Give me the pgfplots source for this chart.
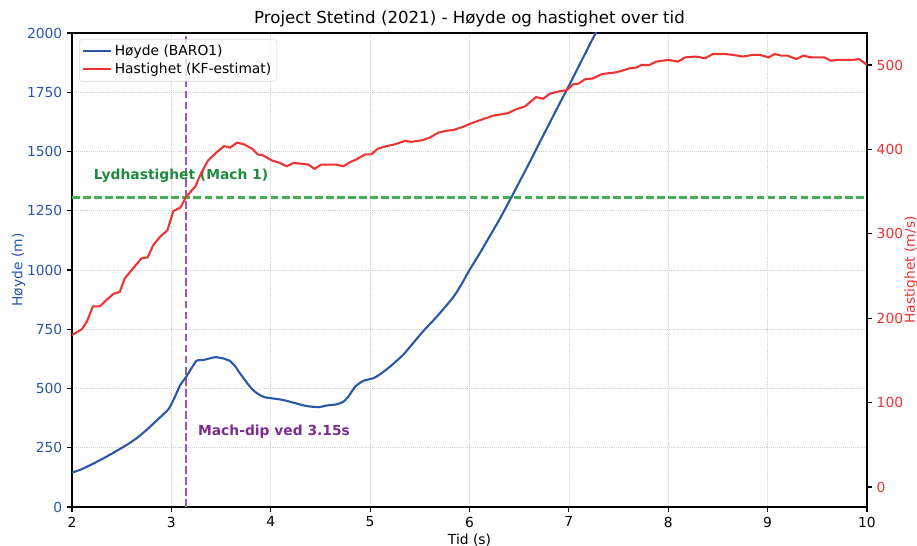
\documentclass[border=0pt]{standalone}
\usepackage{fontspec}
\setmainfont{DejaVu Sans}
\usepackage{pgfplots}
\pgfplotsset{compat=1.18}
\definecolor{hblue}{HTML}{2A56A8}
\definecolor{hred}{HTML}{EE3333}
\definecolor{hgreen}{HTML}{44B055}
\definecolor{tgreen}{HTML}{1E8A3C}
\definecolor{hpurple}{HTML}{9B59B6}
\definecolor{tpurple}{HTML}{7B2C8F}
\pgfplotsset{
  common/.style={
    at={(0,0)}, anchor=south west,
    scale only axis, width=572.4bp, height=341.28bp,
    xmin=2, xmax=10,
    font=\fontsize{10}{12}\selectfont,
    tick align=outside, major tick length=3.5bp,
    every tick/.style={black, line width=0.8bp},
    axis line style={black, line width=0.8bp},
    /pgf/number format/.cd, 1000 sep={}, assume math mode=true,
  },
}
\begin{document}
\begin{tikzpicture}
\useasboundingbox (-51.84bp,-28.08bp) rectangle (608.4bp,365.04bp);
\begin{axis}[common,
  ymin=0, ymax=2000,
  xtick={2,3,...,10}, ytick={0,250,...,2000},
  xtick pos=left, ytick pos=left,
  xmajorgrids, ymajorgrids,
  grid style={densely dotted, gray!35, line width=0.5bp},
  yticklabel style={text=hblue},
  xlabel={Tid (s)}, ylabel={Høyde (m)},
  xlabel style={yshift=2bp},
  ylabel shift=-5.5bp,
  ylabel style={text=hblue},
  title={Project Stetind (2021) - Høyde og hastighet over tid},
  title style={font=\fontsize{12}{14}\selectfont, at={(0.5,1)}, anchor=base, yshift=1bp},
]
\addplot[hpurple, line width=1.5bp, dash pattern=on 5.55bp off 2.4bp] coordinates {(3.15,0) (3.15,2000)};
\addplot[hblue, line width=1.5bp, smooth, tension=0.3] coordinates {
(2.00,145)(2.10,160)(2.20,180)(2.315,205)(2.43,232)(2.55,262)(2.65,290)(2.75,325)
(2.86,368)(2.97,412)(3.02,451)(3.09,515)(3.15,550)(3.25,616)(3.32,620)(3.44,632)
(3.52,627)(3.59,616)(3.64,595)(3.69,564)(3.79,508)(3.84,487)(3.88,475)(3.94,463)
(4.09,454)(4.16,448)(4.23,440)(4.36,426)(4.48,421)(4.56,428)(4.66,433)(4.73,444)
(4.78,465)(4.85,508)(4.93,532)(5.03,543)(5.10,560)(5.20,592)(5.33,641)(5.43,690)
(5.53,740)(5.62,780)(5.70,817)(5.84,887)(5.92,940)(6.00,1000)(6.10,1068)(6.20,1140)
(6.30,1212)(6.40,1290)(6.50,1370)(6.60,1450)(6.70,1533)(6.80,1615)
(6.90,1697)(7.00,1777)(7.10,1860)(7.20,1943)(7.30,2025)(7.40,2110)};
\node[anchor=west, text=tgreen, font=\bfseries\fontsize{10}{12}\selectfont] at (axis cs:2.17,1397) {Lydhastighet (Mach 1)};
\node[anchor=west, text=tpurple, font=\bfseries\fontsize{10}{12}\selectfont] at (axis cs:3.22,316) {Mach-dip ved 3.15s};
\end{axis}
\begin{axis}[common,
  ymin=-23.7, ymax=537.9,
  axis x line=none, axis y line*=right,
  ytick={0,100,...,500},
  yticklabel style={text=hred},
  ylabel={Hastighet (m/s)},
  ylabel shift=-6bp,
  ylabel style={text=hred},
  legend style={at={(0.009,0.987)}, anchor=north west, draw=gray!30, rounded corners=2bp,
    fill=white, fill opacity=0.8, text opacity=1, font=\fontsize{10}{12}\selectfont,
    inner sep=2bp, row sep=0bp},
  legend cell align=left,
  legend image code/.code={\draw[#1] (0bp,0bp) -- (20bp,0bp);},
]
\addlegendimage{hblue, line width=1.5bp}
\addlegendentry{Høyde (BARO1)}
\addplot[hgreen, line width=1.5bp, dash pattern=on 5.55bp off 2.4bp, forget plot] coordinates {(2,343) (10,343)};
\addplot[hred, line width=1.5bp] coordinates {
(2.00,180)(2.10,187)(2.15,196)(2.21,214)(2.28,214)(2.35,222)(2.42,229)(2.48,231)
(2.53,247)(2.60,257)(2.70,271)(2.76,272)(2.82,287)(2.89,297)(2.96,304)(3.02,327)
(3.09,331)(3.15,344)(3.24,356)(3.30,372)(3.37,387)(3.46,397)(3.53,404)(3.59,402)
(3.66,408)(3.73,406)(3.81,401)(3.87,394)(3.92,393)(4.01,387)(4.09,384)(4.16,380)
(4.23,384)(4.38,382)(4.44,377)(4.51,382)(4.66,382)(4.73,380)(4.80,385)(4.86,388)
(4.95,394)(5.01,394)(5.08,401)(5.17,404)(5.25,406)(5.35,410)(5.42,409)(5.53,411)
(5.60,414)(5.69,420)(5.77,422)(5.84,423)(5.94,427)(6.02,431)(6.14,436)(6.24,440)
(6.39,443)(6.46,447)(6.56,451)(6.67,462)(6.74,460)(6.81,466)(6.91,469)(6.98,470)
(7.04,477)(7.10,478)(7.16,483)(7.24,484)(7.33,489)(7.38,490)(7.46,491)(7.53,493)
(7.61,496)(7.68,497)(7.73,500)(7.81,500)(7.88,504)(8.00,506)(8.10,504)(8.17,509)
(8.28,510)(8.37,508)(8.45,513)(8.57,513)(8.65,512)(8.75,510)(8.85,512)(8.92,512)
(9.01,509)(9.07,513)(9.14,511)(9.20,511)(9.29,507)(9.36,511)(9.44,509)(9.57,509)
(9.64,505)(9.70,506)(9.86,506)(9.92,507)(9.99,501)(10.0,500)};
\addlegendentry{Hastighet (KF-estimat)}
\end{axis}
\end{tikzpicture}
\end{document}
